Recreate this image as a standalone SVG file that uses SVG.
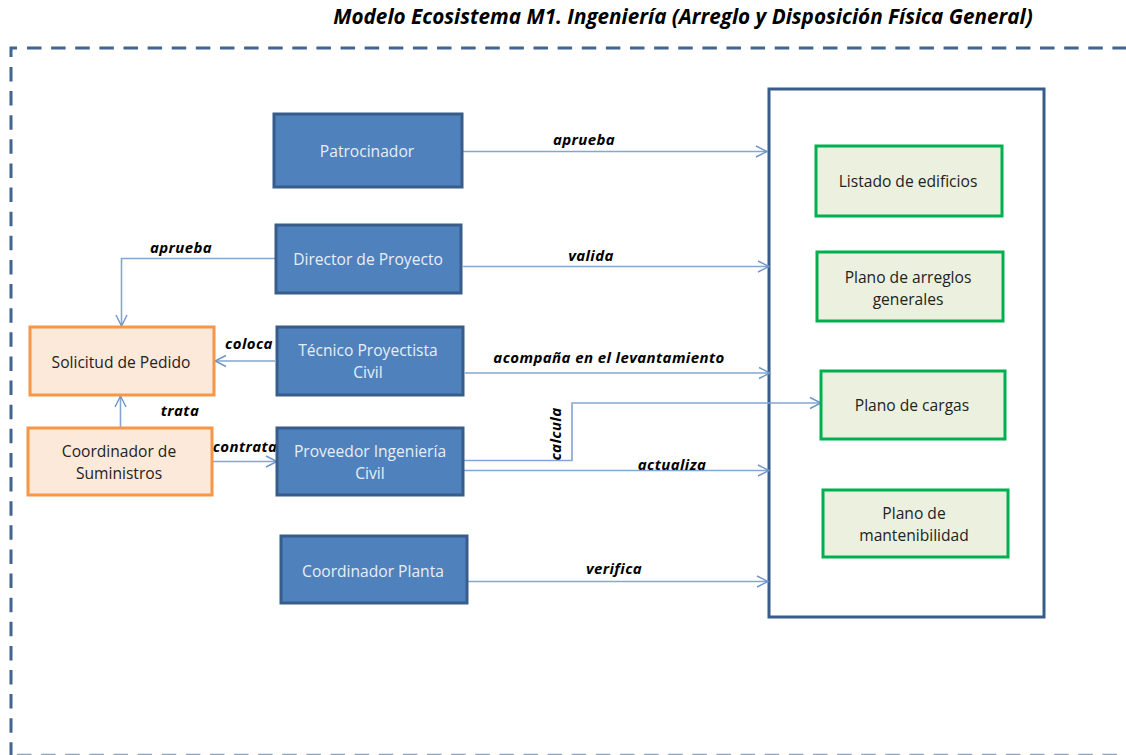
<svg xmlns="http://www.w3.org/2000/svg" width="1126" height="755" viewBox="0 0 1126 755">
<style>
text{font-family:"Open Sans","Noto Sans","Liberation Sans",sans-serif;text-anchor:middle}
.b rect{fill:#4f81bd;stroke:#385d8a;stroke-width:3}
.b text{fill:#e8eef6;font-size:15.6px}
.o rect{fill:#fde9d9;stroke:#f79646;stroke-width:3}
.o text{fill:#222;font-size:15.6px}
.g rect{fill:#ebf1de;stroke:#00b050;stroke-width:3}
.g text{fill:#222;font-size:15.6px}
.l{fill:#000;font-size:15px;font-weight:700;font-style:italic;letter-spacing:.4px}
.c{fill:none;stroke:#84a6d3;stroke-width:1.6;marker-end:url(#a)}
.f{fill:none;stroke:#41658f;stroke-width:3}
.d{stroke-dasharray:14.500 9.620}
</style>
<defs>
<marker id="a" markerUnits="userSpaceOnUse" markerWidth="14" markerHeight="14" refX="12" refY="7" orient="auto"><path d="M1 1.500L12 7L1 12.500" fill="none" stroke="#6f95c8" stroke-width="1.400"/></marker>
</defs>
<rect width="1126" height="755" fill="#fff"/>
<text x="683" y="24" style="font-size:20.7px;font-weight:700;font-style:italic;fill:#000">Modelo Ecosistema M1. Ingeniería (Arreglo y Disposición Física General)</text>
<g id="frame">
<path class="f" d="M11 57V48H17"/>
<path class="f d" d="M27 48H1130"/>
<path class="f d" d="M11 67V756"/>
<path class="f d" d="M17 754.500H1130" style="stroke:#8ea3bd;stroke-width:1.500"/>
</g>
<g id="container"><rect x="769" y="89" width="275" height="528" fill="#fff" stroke="#385d8a" stroke-width="3"/></g>
<g id="connectors">
<path class="c" d="M463 151.500H767"/>
<path class="c" d="M463 266.500H769"/>
<path class="c" d="M275 258.500H121.500V326"/>
<path class="c" d="M275 361H215"/>
<path class="c" d="M465 373H770"/>
<path class="c" d="M120.500 428V396"/>
<path class="c" d="M213 461.500H277"/>
<path class="c" d="M464 460.500H572V403H821"/>
<path class="c" d="M464 470.500H769"/>
<path class="c" d="M467 581.500H768"/>
</g>
<g id="labels">
<text class="l" x="584" y="145">aprueba</text>
<text class="l" x="591" y="261">valida</text>
<text class="l" x="181" y="253">aprueba</text>
<text class="l" x="249" y="349">coloca</text>
<text class="l" x="609" y="363">acompaña en el levantamiento</text>
<text class="l" x="180" y="416">trata</text>
<text class="l" x="245" y="452">contrata</text>
<text class="l" transform="translate(561 434) rotate(-90)">calcula</text>
<text class="l" x="672" y="470">actualiza</text>
<text class="l" x="614" y="574">verifica</text>
</g>
<g id="patrocinador" class="b"><rect x="274" y="114" width="188" height="73"/><text x="367" y="157">Patrocinador</text></g>
<g id="director" class="b"><rect x="276" y="225" width="185" height="68"/><text x="368" y="265">Director de Proyecto</text></g>
<g id="tecnico" class="b"><rect x="277" y="327" width="186" height="68"/><text x="368" y="356">Técnico Proyectista</text><text x="368" y="378">Civil</text></g>
<g id="proveedor" class="b"><rect x="277" y="428" width="186" height="67"/><text x="370" y="457">Proveedor Ingeniería</text><text x="370" y="479">Civil</text></g>
<g id="coordinador-planta" class="b"><rect x="281" y="536" width="186" height="67"/><text x="373" y="577">Coordinador Planta</text></g>
<g id="solicitud" class="o"><rect x="30" y="327" width="184" height="68"/><text x="121" y="368">Solicitud de Pedido</text></g>
<g id="coordinador-suministros" class="o"><rect x="28" y="428" width="184" height="67"/><text x="119" y="457">Coordinador de</text><text x="119" y="479">Suministros</text></g>
<g id="listado" class="g"><rect x="816" y="146" width="186" height="70"/><text x="908" y="187">Listado de edificios</text></g>
<g id="arreglos" class="g"><rect x="817" y="252" width="186" height="69"/><text x="908" y="283">Plano de arreglos</text><text x="908" y="305">generales</text></g>
<g id="cargas" class="g"><rect x="821" y="371" width="184" height="68"/><text x="912" y="411">Plano de cargas</text></g>
<g id="mantenibilidad" class="g"><rect x="823" y="490" width="185" height="67"/><text x="914" y="519">Plano de</text><text x="914" y="541">mantenibilidad</text></g>
</svg>
